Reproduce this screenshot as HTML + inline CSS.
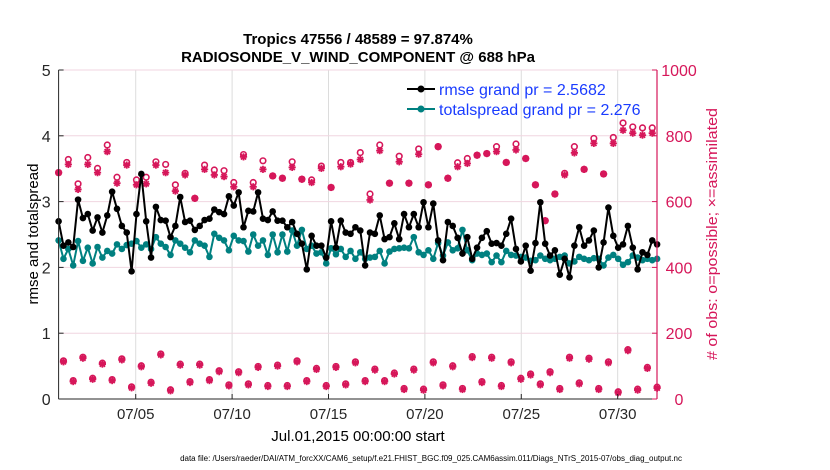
<!DOCTYPE html>
<html><head><meta charset="utf-8"><style>
body{margin:0;background:#fff;}
svg{display:block;font-family:"Liberation Sans",sans-serif;}
</style></head><body>
<svg id="chart" width="830" height="470" xmlns="http://www.w3.org/2000/svg">
<rect width="830" height="470" fill="#fff"/>
<g id="grid"></g>
<g id="marks"></g>
<g id="axes"></g>
<text x="358" y="44" text-anchor="middle" font-size="15" font-weight="bold">Tropics 47556 / 48589 = 97.874%</text>
<text x="358" y="62" text-anchor="middle" font-size="15" font-weight="bold">RADIOSONDE_V_WIND_COMPONENT @ 688 hPa</text>
<text transform="translate(38,234) rotate(-90)" text-anchor="middle" font-size="15">rmse and totalspread</text>
<text transform="translate(717,234) rotate(-90)" text-anchor="middle" font-size="15" textLength="252" lengthAdjust="spacingAndGlyphs" fill="#d6175a"># of obs: o=possible; ×=assimilated</text>
<text x="358" y="441" text-anchor="middle" font-size="15">Jul.01,2015 00:00:00 start</text>
<text x="431" y="461" text-anchor="middle" font-size="8">data file: /Users/raeder/DAI/ATM_forcXX/CAM6_setup/f.e21.FHIST_BGC.f09_025.CAM6assim.011/Diags_NTrS_2015-07/obs_diag_output.nc</text>
<g>
<g>
<line x1="407" y1="89" x2="435" y2="89" stroke="#000" stroke-width="2"/><circle cx="421" cy="89" r="3.5" fill="#000"/>
<text x="439" y="95" font-size="16" fill="#1a3cff">rmse grand pr = 2.5682</text></g>
<g>
<line x1="407" y1="109" x2="435" y2="109" stroke="#008080" stroke-width="2"/><circle cx="421" cy="109" r="3.5" fill="#008080"/>
<text x="439" y="115" font-size="16" fill="#1a3cff">totalspread grand pr = 2.276</text></g>
</g>
</svg>
<script>
const rmse=[2.70,2.33,2.38,2.31,3.03,2.75,2.81,2.56,2.76,2.53,2.79,3.15,2.89,2.63,2.53,1.94,2.81,3.42,2.70,2.15,2.92,2.72,2.71,2.46,2.63,3.07,2.69,2.71,2.57,2.63,2.72,2.74,2.88,2.84,2.81,3.08,2.94,3.14,2.61,2.86,2.85,3.14,2.74,2.72,2.85,2.71,2.71,2.61,2.69,2.51,2.36,1.97,2.48,2.33,2.33,2.15,2.70,2.30,2.71,2.53,2.51,2.61,2.56,
2.03,2.53,2.51,2.79,2.43,2.46,2.67,2.43,2.81,2.61,2.81,2.61,2.99,2.61,2.97,2.41,2.11,2.69,2.63,2.45,2.21,2.46,2.13,2.30,2.45,2.55,2.36,2.37,2.33,2.51,2.74,2.28,2.09,2.33,1.95,2.37,2.99,2.36,2.18,2.26,1.89,2.13,1.85,2.33,2.61,2.33,2.41,2.56,2.00,2.38,2.91,2.48,2.30,2.35,2.63,2.30,1.97,2.23,2.19,2.41,2.35];
const spread=[2.41,2.13,2.28,2.03,2.40,2.10,2.30,2.06,2.31,2.15,2.25,2.21,2.35,2.28,2.34,2.36,2.40,2.30,2.35,2.28,2.46,2.36,2.31,2.19,2.41,2.36,2.30,2.23,2.41,2.36,2.33,2.16,2.51,2.45,2.41,2.26,2.48,2.41,2.40,2.24,2.50,2.33,2.41,2.19,2.50,2.23,2.50,2.24,2.56,2.33,2.57,2.28,2.33,2.21,2.23,2.06,2.29,2.20,2.28,2.16,2.25,2.13,2.23,
2.13,2.15,2.16,2.25,2.06,2.24,2.28,2.29,2.30,2.29,2.46,2.23,2.19,2.26,2.13,2.37,2.18,2.38,2.26,2.29,2.57,2.26,2.11,2.21,2.19,2.21,2.08,2.18,2.08,2.25,2.19,2.18,2.16,2.15,2.10,2.11,2.18,2.13,2.11,2.13,2.16,2.18,2.06,2.09,2.16,2.13,2.11,2.14,2.13,2.03,2.15,2.19,2.13,2.04,2.08,2.18,2.15,2.11,2.13,2.11,2.13];
const upperAssim=[688,713,637,713,688,752,656,711,651,654,711,688,632,681,610,698,681,676,645,736,645,698,678,671,704,668,658,701,643,706,714,728,605,755,656,721,656,744,651,767,671,706,716,741,746,752,719,757,731,651,542,623,681,748,698,777,684,777,817,808,802,808];
const upperPoss=[688,728,654,734,701,772,674,719,666,674,721,713,651,686,610,711,696,694,658,743,658,724,678,671,721,668,666,708,643,719,719,749,623,772,656,738,656,760,651,767,671,718,731,741,746,767,719,775,731,651,542,623,686,767,698,792,684,795,839,827,824,824];
const lowerVals=[113,53,124,60,106,56,119,34,98,48,134,25,103,50,103,56,83,40,80,43,96,38,100,38,113,53,90,38,96,43,110,53,88,53,76,29,88,27,110,40,98,29,126,50,124,38,110,60,73,43,80,29,124,46,121,29,110,19,147,27,93,33];
const xTickDays=[4,9,14,19,24,29];
const xTickLabels=["07/05","07/10","07/15","07/20","07/25","07/30"];
const yLeftTicks=[0,1,2,3,4,5];
const yRightTicks=[0,200,400,600,800,1000];

const L=58.6,R=657,T=70,B=399,XMAX=31.04,DT=0.2524;
const RED="#d6175a",TEAL="#008080";
const xs=d=>L+(d/XMAX)*(R-L);
const yl=v=>B-(v/5)*(B-T);
const yr=v=>B-(v/1000)*(B-T);
const NS="http://www.w3.org/2000/svg";
function mk(tag,attrs,parent){const e=document.createElementNS(NS,tag);for(const k in attrs)e.setAttribute(k,attrs[k]);parent.appendChild(e);return e;}
const grid=document.getElementById('grid'),marks=document.getElementById('marks'),axes=document.getElementById('axes');
mk('rect',{x:L,y:T,width:R-L,height:B-T,fill:'#fff'},grid);
xTickDays.forEach(d=>{const g=mk('line',{x1:xs(d),x2:xs(d),y1:T,y2:B,stroke:'#dcdcdc','stroke-width':1},grid);

});
yRightTicks.forEach(v=>{const g=mk('line',{x1:L,x2:R,y1:yr(v),y2:yr(v),stroke:'#f0d6e0','stroke-width':1},grid);

});
function star(cx,cy,p,name){const g=mk('g',{stroke:RED,'stroke-width':1.8},p);


const s=3.6;mk('line',{x1:cx-s,y1:cy,x2:cx+s,y2:cy},g);mk('line',{x1:cx,y1:cy-s,x2:cx,y2:cy+s},g);
mk('line',{x1:cx-2.6,y1:cy-2.6,x2:cx+2.6,y2:cy+2.6},g);mk('line',{x1:cx-2.6,y1:cy+2.6,x2:cx+2.6,y2:cy-2.6},g);}
upperPoss.forEach((v,k)=>{const c=mk('circle',{cx:xs(2*k*DT),cy:yr(v),r:2.8,fill:'none',stroke:RED,'stroke-width':1.6},marks);

});
upperAssim.forEach((v,k)=>star(xs(2*k*DT),yr(v),marks,'assimilated-obs-marker'));
lowerVals.forEach((v,k)=>{const c=mk('circle',{cx:xs((2*k+1)*DT),cy:yr(v)-1,r:2.8,fill:'none',stroke:RED,'stroke-width':1.6},marks);


star(xs((2*k+1)*DT),yr(v),marks,'assimilated-obs-marker-low');});
function series(arr,col,name){const pts=arr.map((v,i)=>xs(i*DT).toFixed(1)+','+yl(v).toFixed(1)).join(' ');
const pl=mk('polyline',{points:pts,fill:'none',stroke:col,'stroke-width':2},marks);


arr.forEach((v,i)=>{const c=mk('circle',{cx:xs(i*DT),cy:yl(v),r:3.3,fill:col},marks);

});}
series(spread,TEAL,'totalspread');
series(rmse,'#000','rmse');
mk('line',{x1:L,y1:T,x2:L,y2:B,stroke:'#262626','stroke-width':1},axes);
mk('line',{x1:L,y1:B,x2:R,y2:B,stroke:'#262626','stroke-width':1},axes);
mk('line',{x1:R,y1:T,x2:R,y2:B,stroke:RED,'stroke-width':1.2},axes);
yLeftTicks.forEach(v=>{mk('line',{x1:L,x2:L+5,y1:yl(v),y2:yl(v),stroke:'#262626'},axes);
const t=mk('text',{x:L-8,y:yl(v)+6,'text-anchor':'end','font-size':16,fill:'#262626'},axes);t.textContent=v;

});
yRightTicks.forEach(v=>{mk('line',{x1:R-5,x2:R,y1:yr(v),y2:yr(v),stroke:RED},axes);
const t=mk('text',{x:679,y:yr(v)+6,'text-anchor':'middle','font-size':16,fill:RED},axes);t.textContent=v;

});
xTickDays.forEach((d,i)=>{mk('line',{x1:xs(d),x2:xs(d),y1:B-5,y2:B,stroke:'#262626'},axes);
const t=mk('text',{x:xs(d),y:B+20,'text-anchor':'middle','font-size':15,fill:'#262626'},axes);t.textContent=xTickLabels[i];

});
</script>
</body></html>
